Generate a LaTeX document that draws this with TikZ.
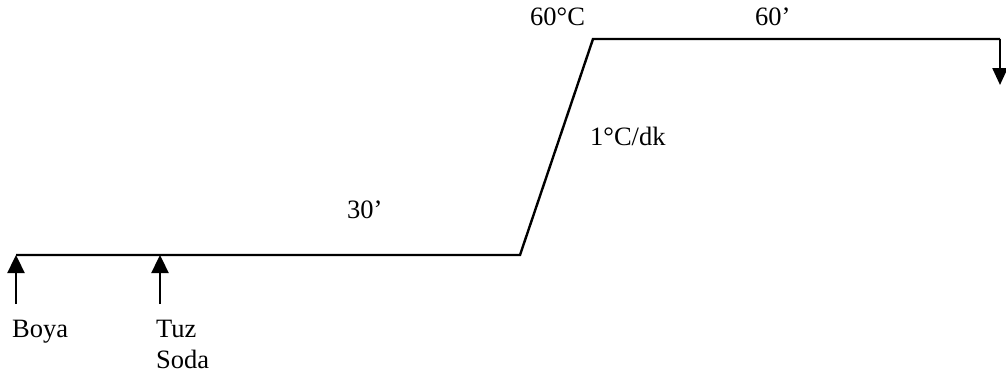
\documentclass[tikz,border=0pt]{standalone}
\usepackage{fontspec}
\setmainfont{Liberation Serif}
\usetikzlibrary{arrows.meta}
\begin{document}
\begin{tikzpicture}[x=1pt,y=-1pt,
  lbl/.style={anchor=base west,inner sep=0pt,font=\fontsize{26.5}{30}\selectfont},
  prof/.style={line width=2.4pt,line join=miter},
  addarrow/.style={line width=2.4pt,-{Triangle[length=18pt,width=17pt]}}]
\useasboundingbox (0,0) rectangle (1006,376);
% profile points
\coordinate (p0) at (16,255);
\coordinate (p1) at (520,255);
\coordinate (p2) at (593,39);
\coordinate (p3) at (1000,39);
\coordinate (p4) at (1000,85);
\coordinate (a1s) at (16,304);
\coordinate (a2s) at (160,304);
\coordinate (a2t) at (160,255);
\draw[prof] (p0) -- (p1) -- (p2) -- (p3);
\draw[line width=2.4pt,-{Triangle[length=17pt,width=15pt]}] (p3) -- (p4);
\draw[addarrow] (a1s) -- (p0);
\draw[addarrow] (a2s) -- (a2t);
% labels
\node[lbl] (boya) at (12,337) {Boya};
\node[lbl] (tuz) at (156,337) {Tuz};
\node[lbl] (soda) at (156,368) {Soda};
\node[lbl] (t30) at (347,218) {30’};
\node[lbl] (temp) at (530,25) {60°C};
\node[lbl] (t60) at (755,25) {60’};
\node[lbl] (rate) at (590,145) {1°C/dk};
\end{tikzpicture}
\end{document}
